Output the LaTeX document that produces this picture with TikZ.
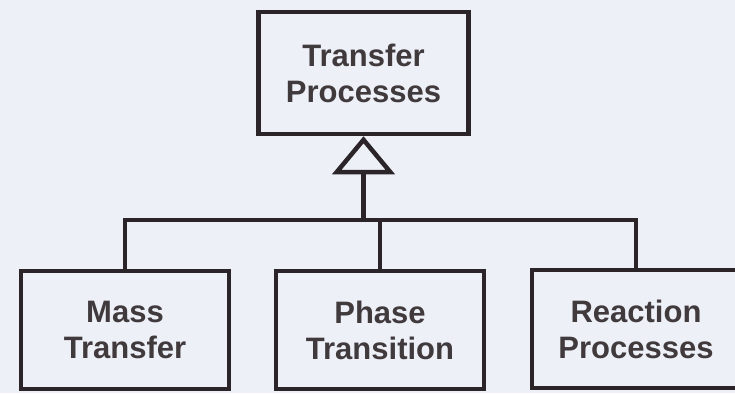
\documentclass[tikz,border=0pt]{standalone}
\usepackage{fontspec}
\setmainfont{Liberation Sans}
\usetikzlibrary{arrows.meta}
\definecolor{paper}{HTML}{EEF0F8}
\definecolor{ink}{HTML}{2B2428}

\begin{document}
\begin{tikzpicture}[
  x=1pt, y=-1pt,
  classbox/.style={rectangle, draw=ink, fill=paper, line width=4.5pt,
                   minimum width=208pt, minimum height=118pt, inner sep=0pt,
                   align=center, text=ink!90, font=\bfseries\fontsize{31}{36}\selectfont},
  link/.style={draw=ink, line width=4.5pt}
]
  \fill[paper] (0,0) rectangle (735,393);
  \useasboundingbox (0,0) rectangle (735,393);
  % super class
  \node[classbox, minimum width=210pt, minimum height=122pt] (transfer) at (363.5,73) {Transfer\\Processes};
  % sub classes
  \node[classbox] (mass) at (125,330) {Mass\\Transfer};
  \node[classbox] (phase) at (380,330) {Phase\\Transition};
  \node[classbox] (reaction) at (636,329) {Reaction\\Processes};
  \coordinate (bus) at (363.5,220);
  % generalization
  \draw[link, -{Triangle[open, length=38pt, width=62pt]}] (bus) -- (transfer.south);
  \draw[link] (mass.north) |- (bus) -| (reaction.north);
  \draw[link] (phase.north) -- (phase.north |- bus);
\end{tikzpicture}
\end{document}
